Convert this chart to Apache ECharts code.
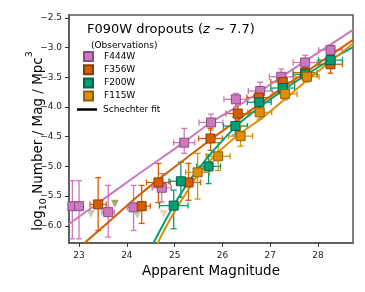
<!DOCTYPE html>
<html><head><meta charset="utf-8">
<script src="https://cdn.jsdelivr.net/npm/echarts@6/dist/echarts.min.js"></script>
<style>html,body{margin:0;padding:0;background:#fff}#c{width:365px;height:292px}</style>
</head><body><div id="c"></div>
<script>
// ---- tick labels ----
const xTicks = [23, 24, 25, 26, 27, 28];
const yTicks = [-6.0, -5.5, -5.0, -4.5, -4.0, -3.5, -3.0, -2.5];

// ---- F444W ----
const f444Mag = [22.86, 23.0, 23.61, 24.14, 24.73, 25.2, 25.76, 26.28, 26.79, 27.23, 27.73, 28.26];
const f444Val = [-5.67, -5.67, -5.77, -5.69, -5.36, -4.6, -4.26, -3.87, -3.73, -3.49, -3.25, -3.04];
const f444Top = [-5.24, -5.24, -5.32, -5.32, -5.12, -4.36, -4.12, -3.77, -3.58, -3.36, -3.13, -2.96];
const f444Bot = [-6.22, -6.22, -6.19, -6.08, -5.6, -4.78, -4.39, -4.0, -3.89, -3.6, -3.35, -3.13];
const f444XErr = [0.08, 0.08, 0.13, 0.13, 0.2, 0.22, 0.25, 0.25, 0.25, 0.25, 0.25, 0.25];

// ---- F356W ----
const f356Mag = [23.4, 24.31, 24.66, 25.29, 25.75, 26.32, 26.76, 27.26, 27.73, 28.26];
const f356Val = [-5.64, -5.67, -5.27, -5.27, -4.53, -4.11, -3.84, -3.58, -3.42, -3.28];
const f356Top = [-5.19, -5.32, -4.95, -4.95, -4.36, -3.97, -3.74, -3.5, -3.33, -3.15];
const f356Bot = [-6.08, -5.96, -5.61, -5.57, -4.73, -4.22, -3.95, -3.67, -3.51, -3.43];
const f356XErr = [0.17, 0.18, 0.25, 0.25, 0.25, 0.25, 0.25, 0.25, 0.25, 0.25];

// ---- F200W ----
const f200Mag = [24.98, 25.13, 25.71, 26.27, 26.77, 27.26, 27.73, 28.26];
const f200Val = [-5.66, -5.25, -5.0, -4.32, -3.92, -3.68, -3.45, -3.21];
const f200Top = [-5.4, -4.93, -4.8, -4.17, -3.82, -3.6, -3.38, -3.14];
const f200Bot = [-6.05, -5.52, -5.29, -4.47, -4.02, -3.77, -3.53, -3.29];
const f200XErr = [0.3, 0.25, 0.25, 0.25, 0.25, 0.25, 0.25, 0.25];

// ---- F115W ----
const f115Mag = [25.48, 25.91, 26.38, 26.78, 27.31, 27.77];
const f115Val = [-5.1, -4.83, -4.49, -4.09, -3.78, -3.49];
const f115Top = [-4.78, -4.6, -4.31, -3.98, -3.69, -3.41];
const f115Bot = [-5.55, -5.07, -4.66, -4.2, -3.88, -3.58];
const f115XErr = [0.25, 0.25, 0.25, 0.25, 0.25, 0.25];

// ---- upper limits (faded) ----
const limMag = [23.25, 23.75, 24.22, 24.77];
const limVal = [-5.8, -5.63, -5.82, -5.8];
const limColor = ['#b9c9a4', '#9c9a66', '#b9c9a4', '#f3d2b0'];

// ---- Schechter fits ----
const fit444Mag = [22.79, 24.26, 25.2, 25.76, 26.35, 27.5, 28.73];
const fit444Val = [-5.97, -5.12, -4.59, -4.26, -3.97, -3.35, -2.70];
const fit356Mag = [23.1, 23.6, 24.29, 25.0, 25.75, 26.3, 27.0, 27.8, 28.73];
const fit356Val = [-6.3, -5.95, -5.46, -5.01, -4.55, -4.23, -3.82, -3.38, -2.87];
const fit200Mag = [24.55, 24.98, 25.3, 25.6, 25.87, 26.28, 26.7, 27.3, 28.0, 28.73];
const fit200Val = [-6.3, -5.66, -5.25, -4.94, -4.68, -4.33, -4.05, -3.7, -3.33, -2.99];
const fit115Mag = [24.64, 24.9, 25.2, 25.5, 25.9, 26.4, 26.8, 27.3, 27.77, 28.73];
const fit115Val = [-6.3, -5.9, -5.5, -5.13, -4.77, -4.43, -4.2, -3.87, -3.55, -2.93];

const FONT = 'DejaVu Sans';
const C444 = '#cc78bc', C356 = '#d55e00', C200 = '#029e73', C115 = '#de8f05';
const E444 = '#8e4a82', E356 = '#8a3c00', E200 = '#01654a', E115 = '#92600a';

function pairs(a, b) { return a.map((m, i) => [m, b[i]]); }

function errSeries(id, color, mag, val, top, bot, xerr) {
  const data = mag.map((m, i) => [m, val[i], top[i], bot[i], xerr[i]]);
  return {
    type: 'custom', id: id, name: id, silent: true, z: 2, clip: true,
    encode: { x: 0, y: [1, 2, 3] },
    data: data,
    renderItem: function (params, api) {
      const m = api.value(0), v = api.value(1), t = api.value(2), b = api.value(3), xe = api.value(4);
      const pT = api.coord([m, t]), pB = api.coord([m, b]);
      const pL = api.coord([m - xe, v]), pR = api.coord([m + xe, v]);
      const cap = 3;
      const st = { stroke: color, lineWidth: 1.3, fill: null };
      return {
        type: 'group', children: [
          { type: 'line', shape: { x1: pT[0], y1: pT[1], x2: pB[0], y2: pB[1] }, style: st },
          { type: 'line', shape: { x1: pT[0] - cap, y1: pT[1], x2: pT[0] + cap, y2: pT[1] }, style: st },
          { type: 'line', shape: { x1: pB[0] - cap, y1: pB[1], x2: pB[0] + cap, y2: pB[1] }, style: st },
          { type: 'line', shape: { x1: pL[0], y1: pL[1], x2: pR[0], y2: pR[1] }, style: st },
          { type: 'line', shape: { x1: pL[0], y1: pL[1] - cap, x2: pL[0], y2: pL[1] + cap }, style: st },
          { type: 'line', shape: { x1: pR[0], y1: pR[1] - cap, x2: pR[0], y2: pR[1] + cap }, style: st }
        ]
      };
    }
  };
}
function fitSeries(id, color, mag, val) {
  return {
    type: 'line', id: id, name: id, data: pairs(mag, val), smooth: 0.4, showSymbol: false,
    symbol: 'none', silent: true, z: 3, clip: true,
    lineStyle: { color: color, width: 2 }
  };
}
function ptSeries(name, color, edge, mag, val) {
  return {
    type: 'scatter', name: name, data: pairs(mag, val), symbol: 'rect', symbolSize: 9, z: 4,
    itemStyle: { color: color, borderColor: edge, borderWidth: 1, opacity: 1 }
  };
}

const chart = echarts.init(document.getElementById('c'), null, { renderer: 'canvas' });
chart.setOption({
  animation: false,
  backgroundColor: '#fff',
  grid: { left: 69, right: 12, top: 15, bottom: 49, show: true, borderColor: '#555', borderWidth: 1.5, backgroundColor: 'transparent' },
  title: [
    {
      text: '{a|F090W dropouts (}{i|z}{a| ∼ 7.7)}', left: 82, top: 18,
      textStyle: { fontWeight: 'normal', rich: {
        a: { fontFamily: FONT, fontSize: 13, fontWeight: 'normal', color: '#000' },
        i: { fontFamily: FONT, fontSize: 13, fontWeight: 'normal', fontStyle: 'italic', color: '#000' }
      } }
    },
    {
      text: '(Observations)', left: 86, top: 36,
      textStyle: { fontFamily: FONT, fontSize: 9, fontWeight: 'normal', color: '#000' }
    }
  ],
  legend: [
    {
      data: ['F444W', 'F356W', 'F200W', 'F115W'], orient: 'vertical', left: 83, top: 51,
      itemWidth: 9, itemHeight: 9, itemGap: 2.2, padding: 0, selectedMode: false,
      textStyle: { fontFamily: FONT, fontSize: 9, color: '#000', padding: [0, 0, 0, 6], lineHeight: 9 }
    },
    {
      data: [{ name: 'Schechter fit', icon: 'rect' }], left: 77, top: 105,
      itemWidth: 20, itemHeight: 2.5, padding: 0, selectedMode: false,
      itemStyle: { color: '#000' },
      textStyle: { fontFamily: FONT, fontSize: 9, color: '#000', padding: [0, 0, 0, 1], lineHeight: 9 }
    }
  ],
  xAxis: {
    type: 'value', min: 22.79, max: 28.73,
    name: 'Apparent Magnitude', nameLocation: 'middle', nameGap: 21,
    nameTextStyle: { fontFamily: FONT, fontSize: 13.5, color: '#000' },
    axisLine: { show: true, onZero: false, lineStyle: { color: '#555', width: 1.5 } },
    axisTick: { show: true, customValues: xTicks, length: 4, lineStyle: { color: '#333', width: 1 } },
    axisLabel: { customValues: xTicks, margin: 8, fontFamily: FONT, fontSize: 9, color: '#222', formatter: v => String(Math.round(v)) },
    splitLine: { show: false }
  },
  yAxis: {
    type: 'value', min: -6.29, max: -2.45,
    axisLine: { show: true, onZero: false, lineStyle: { color: '#555', width: 1.5 } },
    axisTick: { show: true, customValues: yTicks, length: 4, lineStyle: { color: '#333', width: 1 } },
    axisLabel: { customValues: yTicks, margin: 7, fontFamily: FONT, fontSize: 9, color: '#222', formatter: v => v.toFixed(1).replace('-', '−') },
    splitLine: { show: false }
  },
  graphic: [
    {
      type: 'text', x: 35, y: 141, rotation: Math.PI / 2,
      style: {
        text: '{a|log}{s|10}{a| Number / Mag / Mpc}{p|3}',
        align: 'center', verticalAlign: 'middle',
        rich: {
          a: { fontFamily: FONT, fontSize: 13.5, fill: '#000', verticalAlign: 'bottom', lineHeight: 16 },
          s: { fontFamily: FONT, fontSize: 9.5, fill: '#000', verticalAlign: 'bottom', lineHeight: 20, padding: [0, 0, -4, 0] },
          p: { fontFamily: FONT, fontSize: 9.5, fill: '#000', verticalAlign: 'top', lineHeight: 10, padding: [0, 0, 6, 0] }
        }
      }
    }
  ],
  series: [
    {
      type: 'scatter', name: 'limits', silent: true, z: 1, symbol: 'triangle', symbolRotate: 180, symbolSize: 8,
      data: limMag.map((m, i) => ({ value: [m, limVal[i]], itemStyle: { color: limColor[i], opacity: 0.9 } }))
    },
    errSeries('e444', C444, f444Mag, f444Val, f444Top, f444Bot, f444XErr),
    errSeries('e356', C356, f356Mag, f356Val, f356Top, f356Bot, f356XErr),
    errSeries('e200', C200, f200Mag, f200Val, f200Top, f200Bot, f200XErr),
    errSeries('e115', C115, f115Mag, f115Val, f115Top, f115Bot, f115XErr),
    fitSeries('l444', C444, fit444Mag, fit444Val),
    fitSeries('l356', C356, fit356Mag, fit356Val),
    fitSeries('l200', C200, fit200Mag, fit200Val),
    fitSeries('l115', C115, fit115Mag, fit115Val),
    ptSeries('F444W', C444, E444, f444Mag, f444Val),
    ptSeries('F356W', C356, E356, f356Mag, f356Val),
    ptSeries('F200W', C200, E200, f200Mag, f200Val),
    ptSeries('F115W', C115, E115, f115Mag, f115Val),
    { type: 'line', name: 'Schechter fit', data: [], itemStyle: { color: '#000' }, lineStyle: { color: '#000' } }
  ]
});
</script>
</body></html>
